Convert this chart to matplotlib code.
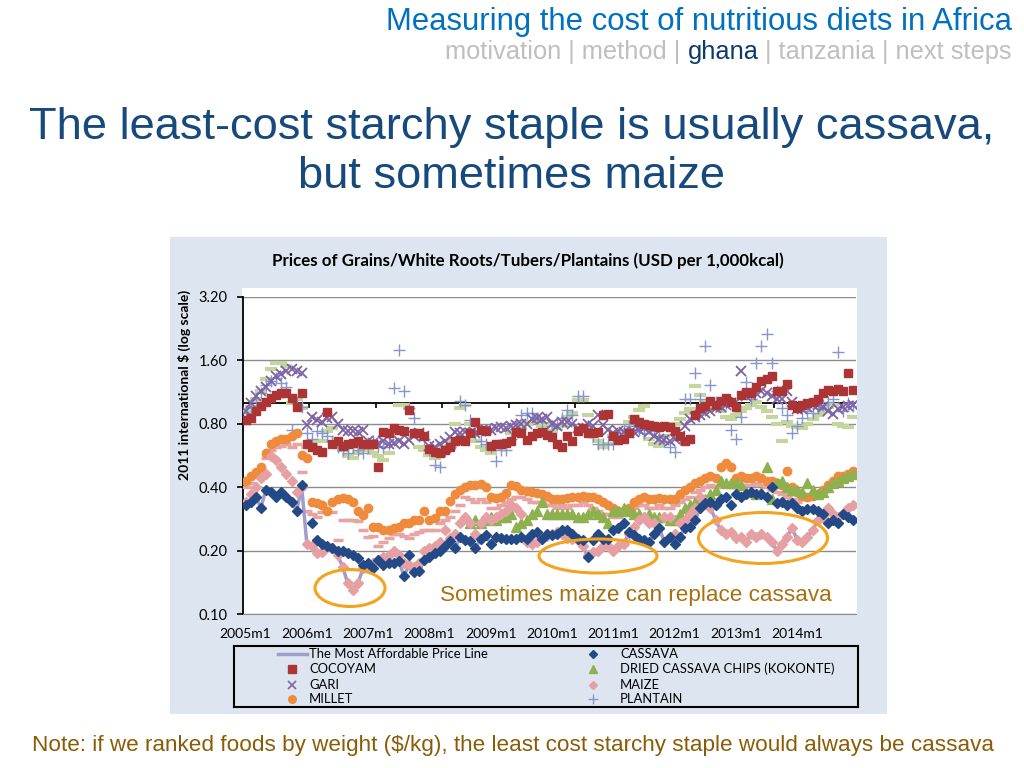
import numpy as np
import matplotlib
matplotlib.use("Agg")
import matplotlib.pyplot as plt
from matplotlib.patches import Rectangle, Ellipse
from matplotlib.ticker import NullLocator, FixedLocator

nan = np.nan

# ---- data (monthly, 2005m1 .. 2014m12), USD per 1,000 kcal ----
year_labels = ["2005m1", "2006m1", "2007m1", "2008m1", "2009m1",
               "2010m1", "2011m1", "2012m1", "2013m1", "2014m1"]
year_pos = [0, 12, 24, 36, 48, 60, 72, 84, 96, 108]
y_ticks = [0.10, 0.20, 0.40, 0.80, 1.60, 3.20]

cassava = [0.33, 0.34, 0.36, 0.32, 0.39, 0.38, 0.36, 0.38, 0.36, 0.34, 0.31, 0.41,
           nan, 0.27, 0.225, 0.215, 0.21, 0.205, 0.20, 0.20, 0.195, 0.19, 0.185, 0.17,
           0.175, 0.165, 0.18, 0.17, 0.175, 0.175, 0.178, 0.152, 0.19, 0.158, 0.16, 0.18,
           0.187, 0.194, 0.20, 0.21, 0.222, 0.205, 0.232, 0.225, 0.222, 0.205, 0.228, 0.237,
           0.216, 0.233, 0.23, 0.228, 0.228, 0.228, 0.233, 0.228, 0.241, 0.245, 0.228, 0.241,
           0.237, 0.24, 0.25, 0.25, 0.24, 0.228, 0.225, 0.186, 0.224, 0.241, 0.228, 0.228,
           0.25, 0.255, 0.269, 0.246, 0.237, 0.228, 0.224, 0.22, 0.241, 0.255, 0.22, 0.233,
           0.216, 0.233, 0.255, 0.259, 0.279, 0.317, 0.335, 0.34, 0.33, 0.35, 0.36, 0.33,
           0.37, 0.36, 0.37, 0.38, 0.37, 0.37, 0.36, 0.40, 0.335, 0.34, 0.33, 0.335,
           0.32, 0.31, 0.315, 0.315, 0.31, 0.30, 0.27, 0.28, 0.27, 0.30, 0.29, 0.28]

maize = [0.34, 0.37, 0.40, 0.44, 0.46, 0.56, 0.54, 0.50, 0.46, 0.43, 0.38, 0.40,
         0.215, 0.21, 0.195, 0.197, 0.208, 0.205, 0.19, 0.168, 0.14, 0.13, 0.14, 0.165,
         0.17, 0.174, 0.18, 0.187, 0.19, 0.20, 0.19, 0.175, 0.17, 0.168, 0.175, 0.20,
         0.205, 0.21, 0.22, 0.25, 0.23, 0.24, 0.27, 0.29, 0.27, 0.24, 0.27, 0.29,
         0.28, 0.29, 0.30, 0.31, 0.33, 0.32, 0.30, 0.22, 0.215, 0.22, 0.23, 0.235,
         0.24, 0.245, 0.24, 0.23, 0.228, 0.224, 0.21, 0.19, 0.196, 0.20, 0.21, 0.21,
         0.20, 0.21, 0.216, 0.24, 0.26, 0.28, 0.29, 0.27, 0.27, 0.255, 0.29, 0.29,
         0.24, 0.27, 0.28, 0.30, 0.32, 0.36, 0.34, 0.32, 0.28, 0.25, 0.24, 0.245,
         0.23, 0.233, 0.22, 0.24, 0.233, 0.24, 0.233, 0.22, 0.20, 0.215, 0.233, 0.255,
         0.225, 0.22, 0.233, 0.25, 0.279, 0.29, 0.32, 0.30, 0.29, 0.30, 0.317, 0.33]

millet = [0.43, 0.45, 0.47, 0.50, 0.58, 0.64, 0.66, 0.68, 0.68, 0.70, 0.72, 0.57,
          0.55, 0.34, 0.335, 0.33, 0.31, 0.34, 0.35, 0.355, 0.35, 0.34, 0.31, 0.295,
          0.32, 0.26, 0.26, 0.25, 0.25, 0.255, 0.26, 0.27, 0.27, 0.28, 0.28, 0.31,
          0.28, 0.285, 0.31, 0.31, 0.345, 0.37, 0.39, 0.40, 0.41, 0.41, 0.415, 0.40,
          0.36, 0.355, 0.36, 0.375, 0.41, 0.405, 0.39, 0.385, 0.38, 0.375, 0.37, 0.365,
          0.35, 0.35, 0.35, 0.355, 0.36, 0.36, 0.365, 0.36, 0.36, 0.35, 0.34, 0.33,
          0.32, 0.31, 0.31, 0.32, 0.34, 0.35, 0.36, 0.35, 0.35, 0.355, 0.35, 0.35,
          0.35, 0.37, 0.39, 0.40, 0.42, 0.43, 0.44, 0.45, 0.44, 0.50, 0.52, 0.50,
          0.44, 0.45, 0.44, 0.44, 0.45, 0.44, 0.43, 0.43, 0.42, 0.41, 0.48, 0.40,
          0.38, 0.365, 0.36, 0.365, 0.37, 0.39, 0.41, 0.43, 0.45, 0.45, 0.46, 0.48]

# unlabeled pink dash series
sorghum = [0.40, 0.42, 0.45, 0.48, 0.55, 0.60, 0.62, 0.63, 0.64, 0.62, 0.64, 0.47,
           0.31, 0.30, 0.29, 0.305, 0.31, 0.305, 0.224, 0.28, 0.28, 0.28, 0.275, 0.25,
           0.232, 0.235, 0.21, 0.22, 0.23, 0.24, 0.24, 0.235, 0.23, 0.24, 0.245, 0.25,
           0.25, 0.25, 0.27, 0.28, 0.29, 0.31, 0.33, 0.36, 0.35, 0.34, 0.35, 0.34,
           0.32, 0.32, 0.33, 0.34, 0.35, 0.36, 0.36, 0.35, 0.34, 0.34, 0.34, 0.33,
           0.33, 0.32, 0.33, 0.32, 0.33, 0.33, 0.34, 0.33, 0.32, 0.31, 0.30, 0.30,
           0.29, 0.29, 0.30, 0.31, 0.32, 0.33, 0.33, 0.32, 0.32, 0.33, 0.32, 0.32,
           0.33, 0.34, 0.35, 0.36, 0.38, 0.39, 0.40, 0.41, 0.40, 0.41, 0.42, 0.41,
           0.40, 0.40, 0.41, 0.41, 0.42, 0.41, 0.40, 0.39, 0.38, 0.37, 0.36, 0.35,
           0.34, 0.35, 0.35, 0.36, 0.37, 0.38, 0.40, 0.41, 0.42, 0.43, 0.44, 0.45]

kokonte = [nan] * 44 + [
           0.27, 0.28, 0.27, 0.28, 0.29, 0.28, 0.29, 0.29, 0.30, 0.26, 0.27, 0.28,
           0.30, 0.31, 0.34, 0.30, 0.30, 0.30, 0.30, 0.30, 0.30, 0.29, 0.29, 0.30,
           0.31, 0.30, 0.29, 0.27, 0.31, 0.31, 0.32, 0.31, 0.30, 0.30, 0.29, 0.30,
           0.29, 0.29, 0.29, 0.28, 0.28, 0.30, 0.32, 0.33, 0.34, 0.35, 0.35, 0.37,
           0.39, 0.43, 0.42, 0.42, 0.42, 0.41, 0.38, 0.38, 0.37, 0.38, 0.50, 0.35,
           0.42, 0.43, 0.40, 0.39, 0.39, 0.38, 0.42, 0.39, 0.37, 0.38, 0.40, 0.42,
           0.43, 0.44, 0.45, 0.46]

cocoyam = [0.83, 0.85, 0.92, 0.97, 1.01, 1.06, 1.10, 1.12, 1.12, 1.06, 0.96, 1.12,
           0.64, 0.62, 0.60, 0.59, 0.91, 0.64, 0.66, 0.63, 0.64, 0.65, 0.66, 0.64,
           0.64, 0.64, 0.50, 0.73, 0.72, 0.76, 0.75, 0.74, 0.93, 0.72, 0.72, 0.70,
           0.61, 0.59, 0.58, 0.60, 0.62, 0.66, 0.67, 0.66, 0.72, 0.82, 0.75, 0.74,
           0.63, 0.64, 0.64, 0.65, 0.66, 0.73, 0.72, 0.67, 0.70, 0.72, 0.73, 0.71,
           0.69, 0.64, 0.62, 0.70, 0.66, 0.74, 0.76, 0.72, 0.72, 0.73, 0.88, 0.89,
           0.70, 0.67, 0.68, 0.72, 0.84, 0.82, 0.80, 0.79, 0.78, 0.77, 0.78, 0.77,
           0.74, 0.70, 0.66, 0.68, 0.88, 0.95, 0.97, 1.03, 0.98, 1.03, 1.06, 1.02,
           0.96, 1.10, 1.13, 1.12, 1.20, 1.28, 1.30, 1.35, 1.15, 1.14, 1.23, 0.98,
           0.95, 0.98, 1.00, 1.02, 1.05, 1.12, 1.16, 1.14, 1.17, 1.15, 1.40, 1.16]

gari = [0.92, 1.00, 1.08, 1.14, 1.20, 1.28, 1.35, 1.38, 1.43, 1.45, 1.42, 1.40,
        0.79, 0.86, 0.83, 0.82, 0.85, 0.86, 0.80, 0.75, 0.74, 0.74, 0.73, 0.75,
        0.66, 0.65, 0.64, 0.66, 0.64, 0.65, 0.66, 0.64, 0.67, 0.70, 0.72, 0.70,
        0.63, 0.62, 0.64, 0.66, 0.69, 0.73, 0.72, 0.73, 0.72, 0.72, 0.74, 0.75,
        0.75, 0.76, 0.77, 0.76, 0.78, 0.79, 0.80, 0.80, 0.84, 0.85, 0.84, 0.86,
        0.80, 0.78, 0.82, 0.82, 0.80, 0.76, 0.76, 0.80, 0.78, 0.88, 0.79, 0.75,
        0.72, 0.74, 0.73, 0.72, 0.73, 0.75, 0.76, 0.73, 0.70, 0.68, 0.67, 0.66,
        0.68, 0.70, 0.78, 0.84, 0.86, 0.88, 0.90, 0.92, 0.95, 0.96, 0.98, 1.00,
        1.02, 1.43, 1.08, 1.10, 1.12, 1.15, 1.12, 1.08, 1.05, 1.05, 1.15, 1.02,
        0.94, 0.94, 0.96, 0.98, 0.98, 0.96, 0.92, 0.89, 0.94, 0.96, 0.97, 0.98]

plantain = [0.90, 0.95, 1.02, 1.12, 1.22, 1.28, 1.32, 1.25, 1.20, 0.75, 1.00, 0.96,
            0.72, 0.68, 0.74, 0.72, 0.70, 0.66, 0.62, 0.60, 0.58, 0.62, 0.60, 0.58,
            0.62, 0.66, 0.63, 0.62, 0.64, 1.18, 1.80, 1.15, 0.95, 0.85, 0.70, 0.68,
            0.60, 0.51, 0.50, 0.60, 0.62, 0.65, 1.03, 0.98, 0.83, 0.72, 0.66, 0.64,
            0.62, 0.53, 0.60, 0.60, 0.68, 0.80, 0.88, 0.90, 0.90, 0.85, 0.82, 0.72,
            0.78, 0.80, 0.85, 0.93, 0.88, 1.09, 1.08, 0.78, 0.70, 0.64, 0.64, 0.64,
            0.64, 0.70, 0.75, 0.78, 0.80, 0.75, 0.72, 0.76, 0.74, 0.70, 0.66, 0.62,
            0.59, 0.68, 1.05, 1.05, 1.39, 1.05, 1.88, 1.22, 1.02, 0.98, 1.00, 0.75,
            0.68, 0.86, 1.26, 1.05, 1.55, 1.88, 2.13, 1.55, 1.15, 0.95, 0.88, 0.72,
            0.78, 0.85, 0.92, 0.90, 0.95, 0.98, 1.02, 1.05, 1.75, 0.92, 1.00, 0.97]

# unlabeled light green dash series
yam = [0.91, 0.96, 1.05, 1.15, 1.30, 1.45, 1.55, 1.55, 1.50, 1.00, 1.05, 0.95,
       0.62, 0.64, 0.66, 0.66, 0.74, 0.76, 0.62, 0.60, 0.56, 0.55, 0.58, 0.60,
       0.60, 0.58, 0.56, 0.54, 0.58, 0.72, 0.98, 0.98, 0.95, 0.70, 0.62, 0.60,
       0.57, 0.55, 0.56, 0.62, 0.66, 0.80, 0.95, 0.98, 0.80, 0.66, 0.62, 0.60,
       0.58, 0.62, 0.64, 0.66, 0.72, 0.74, 0.76, 0.80, 0.82, 0.84, 0.78, 0.80,
       0.74, 0.76, 0.78, 0.86, 0.90, 1.04, 1.04, 0.88, 0.70, 0.66, 0.62, 0.64,
       0.70, 0.72, 0.74, 0.82, 0.86, 0.93, 0.97, 0.68, 0.64, 0.63, 0.70, 0.76,
       0.80, 0.84, 0.90, 0.94, 1.21, 1.10, 1.02, 1.00, 0.96, 0.92, 0.86, 0.84,
       0.88, 0.92, 0.95, 0.98, 1.02, 0.96, 0.92, 0.86, 0.80, 0.66, 0.82, 0.78,
       0.77, 0.76, 0.80, 0.84, 0.88, 0.92, 0.96, 0.98, 0.80, 0.78, 0.77, 0.86]

months = np.arange(len(cassava))
all_series = np.array([cassava, maize, millet, sorghum, kokonte, cocoyam, gari, plantain, yam])
cheapest = np.nanmin(all_series, axis=0)   # the most affordable price line

W, H = 1024, 768
narrow = ["Lato", "DejaVu Sans"]
arial = ["Liberation Sans", "DejaVu Sans"]
panel_bg = "#dde6f0"

fig = plt.figure(figsize=(W / 100, H / 100), dpi=100)
fig.patch.set_facecolor("white")

def fx(px):
    return px / W

def fy(py):
    return 1 - py / H

# chart panel + white plot area
fig.patches.append(Rectangle((fx(170), fy(714)), fx(887) - fx(170), fy(237) - fy(714),
                             transform=fig.transFigure, facecolor=panel_bg, edgecolor="none", zorder=-2))
fig.patches.append(Rectangle((fx(242), fy(615)), fx(857) - fx(242), fy(288) - fy(615),
                             transform=fig.transFigure, facecolor="white", edgecolor="none", zorder=-1))

ax = fig.add_axes([fx(243), fy(614), fx(856) - fx(243), fy(297) - fy(614)])
ax.set_zorder(1)
ax.set_facecolor("white")
ax.set_yscale("log", base=2)
ax.set_ylim(0.1, 3.2)
ax.set_xlim(-0.5, 119.5)
ax.yaxis.set_major_locator(FixedLocator(y_ticks))
ax.yaxis.set_minor_locator(NullLocator())
ax.set_yticklabels(["%.2f" % v for v in y_ticks])
ax.yaxis.grid(True, color="#8c8c8c", lw=1.0)
ax.set_axisbelow(True)
ax.set_xticks(year_pos)
ax.set_xticklabels(year_labels)
ax.tick_params(axis="x", length=0, pad=10, labelsize=10)
ax.tick_params(axis="y", length=4, width=1.2, direction="out", pad=7, labelsize=10.5)
for lab in ax.get_xticklabels() + ax.get_yticklabels():
    lab.set_family(narrow)
for s in ["top", "right"]:
    ax.spines[s].set_visible(False)
ax.spines["bottom"].set_color("#8c8c8c")
ax.spines["left"].set_linewidth(1.3)

# category axis crosses at 1.0
ax.axhline(1.0, color="black", lw=1.3, zorder=2)
frac = np.log(1.0 / 0.1) / np.log(32)
cat_ticks = np.arange(13, 120, 13) - 0.5
ax.vlines(cat_ticks, frac - 0.016, frac, transform=ax.get_xaxis_transform(), colors="black", lw=1.2)

ax.plot(months, yam, ls="none", marker="_", ms=9, mew=3, color="#c4d69e", zorder=3)
ax.plot(months, plantain, ls="none", marker="+", ms=8.5, mew=1.0, color="#8596cc", zorder=3)
ax.plot(months, gari, ls="none", marker="x", ms=6.5, mew=1.3, color="#7d62a6", zorder=3)
ax.plot(months, cocoyam, ls="none", marker="s", ms=5.6, color="#ad3434", zorder=3)
ax.plot(months, sorghum, ls="none", marker="_", ms=7, mew=2.5, color="#e7a4a3", zorder=3)
ax.plot(months, millet, ls="none", marker="o", ms=6, color="#ee8b3d", zorder=3)
ax.plot(months, kokonte, ls="none", marker="^", ms=6.5, color="#8fb04e", zorder=3)
ax.plot(months, cheapest, color="#a39bc8", lw=2.5, zorder=3.5)
ax.plot(months, maize, ls="none", marker="D", ms=5.2, color="#e6a0a4", zorder=4)
ax.plot(months, cassava, ls="none", marker="D", ms=5.2, color="#234a86", zorder=4)

# annotations
orange = "#f5a31c"
for cx, cy, w, h in [(350, 588, 70, 37), (598, 556, 118, 34), (763, 538, 129, 51)]:
    fig.patches.append(Ellipse((fx(cx), fy(cy)), w / W, h / H, transform=fig.transFigure,
                               fill=False, edgecolor=orange, lw=2.2, zorder=5))
fig.text(fx(440), fy(596), "Sometimes maize can replace cassava", ha="left", va="center",
         fontsize=16.2, color="#a8700e", family=arial, zorder=5)

# chart title and axis title
fig.text(fx(528), fy(261), "Prices of Grains/White Roots/Tubers/Plantains (USD per 1,000kcal)",
         ha="center", va="center", fontsize=12.2, fontweight="bold", family=narrow)
fig.text(fx(184), fy(385), r"2011 international \$ (log scale)", rotation=90, ha="center",
         va="center", fontsize=10, fontweight="bold", family=narrow)

# legend
lax = fig.add_axes([fx(234), fy(707), fx(858) - fx(234), fy(646) - fy(707)])
lax.set_zorder(1)
lax.set_xlim(234, 858)
lax.set_ylim(707, 646)
lax.set_xticks([])
lax.set_yticks([])
lax.set_facecolor(panel_bg)
for s in lax.spines.values():
    s.set_linewidth(1.5)
rows = [654, 669, 685, 699]
lax.plot([278, 307], [rows[0], rows[0]], color="#a39bc8", lw=2.5)
lax.plot([292], [rows[1]], marker="s", ms=5.5, color="#ad3434")
lax.plot([292], [rows[2]], marker="x", ms=6, mew=1.2, color="#7d62a6")
lax.plot([292], [rows[3]], marker="o", ms=5.5, color="#ee8b3d")
lax.plot([593], [rows[0]], marker="D", ms=4, color="#234a86")
lax.plot([593], [rows[1]], marker="^", ms=6, color="#8fb04e")
lax.plot([593], [rows[2]], marker="D", ms=4, color="#e6a0a4")
lax.plot([593], [rows[3]], marker="+", ms=7, mew=1.0, color="#8596cc")
left_names = ["The Most Affordable Price Line", "COCOYAM", "GARI", "MILLET"]
right_names = ["CASSAVA", "DRIED CASSAVA CHIPS (KOKONTE)", "MAIZE", "PLANTAIN"]
for r, a, b in zip(rows, left_names, right_names):
    lax.text(309, r, a, ha="left", va="center", fontsize=9.4, family=narrow)
    lax.text(620, r, b, ha="left", va="center", fontsize=9.4, family=narrow)

# slide header
fig.text(fx(1012), fy(22), "Measuring the cost of nutritious diets in Africa", ha="right",
         va="center", fontsize=22.4, color="#0070c0", family=arial)
pieces = [("motivation | method | ", "#bfbfbf"), ("ghana", "#0b3a6e"),
          (" | tanzania | next steps", "#bfbfbf")]
renderer = fig.canvas.get_renderer()
widths = []
for txt, col in pieces:
    t = fig.text(0, 0, txt, fontsize=18.3, family=arial)
    widths.append(t.get_window_extent(renderer).width)
    t.remove()
x0 = 1012 - sum(widths)
for (txt, col), wd in zip(pieces, widths):
    fig.text(fx(x0), fy(52), txt, ha="left", va="center", fontsize=18.3, color=col, family=arial)
    x0 += wd

fig.text(fx(512), fy(128), "The least-cost starchy staple is usually cassava,", ha="center",
         va="center", fontsize=32.6, color="#174a7c", family=arial)
fig.text(fx(512), fy(177), "but sometimes maize", ha="center", va="center", fontsize=32.6,
         color="#174a7c", family=arial)

fig.text(fx(513), fy(746), r"Note: if we ranked foods by weight (\$/kg), the least cost starchy staple would always be cassava",
         ha="center", va="center", fontsize=16.2, color="#8a5c06", family=arial)

fig.savefig("out.png", dpi=100)
